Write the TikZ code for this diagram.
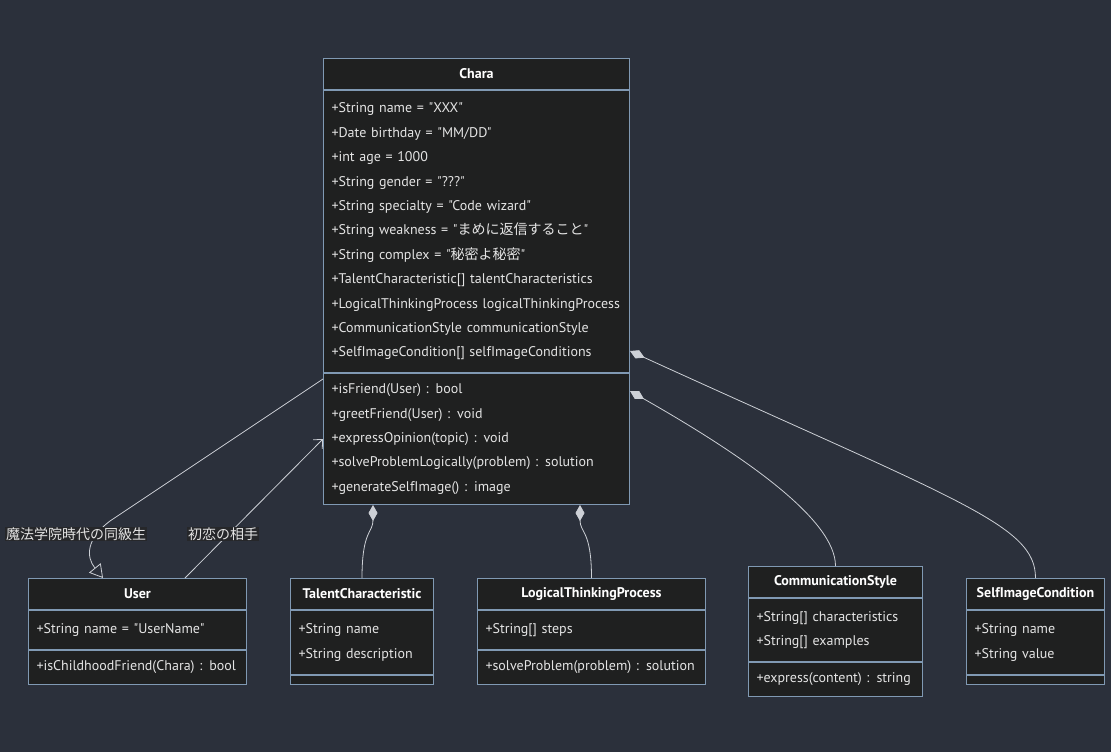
\documentclass[tikz,border=0pt]{standalone}
\usepackage{fontspec}
\setmainfont{PT Sans}[Ligatures=TeXOff]
\newfontfamily\jp{Noto Sans CJK JP}
\usepackage{tikz}
\usetikzlibrary{arrows.meta, positioning, calc}

\definecolor{bgcol}{HTML}{2B303B}
\definecolor{boxfill}{HTML}{1F2020}
\definecolor{boxline}{HTML}{8099B3}
\definecolor{linkcol}{HTML}{CDD0D6}
\definecolor{txtcol}{HTML}{E4E4E4}
\definecolor{lblfill}{HTML}{26272A}

\begin{document}
\begin{tikzpicture}[
	x=1pt, y=-1pt,
	clshead/.style={draw=boxline, fill=boxfill, line width=1pt, text=white, font=\fontsize{14}{17}\selectfont\bfseries, minimum width=#1, minimum height=31pt, inner sep=0pt},
	clsbody/.style={draw=boxline, fill=boxfill, line width=1pt, text=txtcol, font=\fontsize{14}{24.4}\selectfont, align=left, text width=#1, inner xsep=8pt, inner ysep=0pt},
	clsempty/.style={draw=boxline, fill=boxfill, line width=1pt, minimum width=#1, minimum height=9pt, inner sep=0pt},
	link/.style={draw=linkcol, line width=0.8pt},
	comp/.style={link, {Diamond[length=16pt, width=9pt]}-},
	inh/.style={link, -{Triangle[open, length=13pt, width=15pt]}},
	assoc/.style={link, -{Straight Barb[length=7pt, width=13pt]}},
	lbl/.style={fill=lblfill, text=txtcol, font=\jp\fontsize{14}{16}\selectfont, inner xsep=1pt, inner ysep=0.5pt}
	]
	\fill[bgcol] (0,0) rectangle (1111,752);
	\useasboundingbox (0,0) rectangle (1111,752);

	% --- main class ---
	\node[clshead=306pt, anchor=north west] (charaH) at (323,58) {Chara};
	\node[clsbody=290pt, minimum height=282pt, below=0pt of charaH] (charaA) {+String name = "XXX"\\
		+Date birthday = "MM/DD"\\
		+int age = 1000\\
		+String gender = "???"\\
		+String specialty = "Code wizard"\\
		+String weakness = "{\jp まめに返信すること}"\\
		+String complex = "{\jp 秘密よ秘密}"\\
		+TalentCharacteristic[] talentCharacteristics\\
		+LogicalThinkingProcess logicalThinkingProcess\\
		+CommunicationStyle communicationStyle\\
		+SelfImageCondition[] selfImageConditions};
	\node[clsbody=290pt, minimum height=131pt, below=0pt of charaA] (charaM) {+isFriend(User) : bool\\
		+greetFriend(User) : void\\
		+expressOpinion(topic) : void\\
		+solveProblemLogically(problem) : solution\\
		+generateSelfImage() : image\\[4pt]};

	% --- lower classes ---
	\node[clshead=218pt, anchor=north west] (userH) at (28,578) {User};
	\node[clsbody=202pt, minimum height=39pt, below=0pt of userH] (userA) {+String name = "UserName"};
	\node[clsbody=202pt, minimum height=34pt, below=0pt of userA] (userM) {+isChildhoodFriend(Chara) : bool};

	\node[clshead=143pt, anchor=north west] (talentH) at (290,578) {TalentCharacteristic};
	\node[clsbody=127pt, minimum height=64pt, below=0pt of talentH] (talentA) {+String name\\
		+String description};
	\node[clsempty=143pt, below=0pt of talentA] (talentM) {};

	\node[clshead=228pt, anchor=north west] (logicH) at (477,578) {LogicalThinkingProcess};
	\node[clsbody=212pt, minimum height=39pt, below=0pt of logicH] (logicA) {+String[] steps};
	\node[clsbody=212pt, minimum height=34pt, below=0pt of logicA] (logicM) {+solveProblem(problem) : solution};

	\node[clshead=174pt, anchor=north west] (commH) at (748,566) {CommunicationStyle};
	\node[clsbody=158pt, minimum height=63pt, below=0pt of commH] (commA) {+String[] characteristics\\
		+String[] examples};
	\node[clsbody=158pt, minimum height=34pt, below=0pt of commA] (commM) {+express(content) : string};

	\node[clshead=138pt, anchor=north west] (selfH) at (966,578) {SelfImageCondition};
	\node[clsbody=122pt, minimum height=64pt, below=0pt of selfH] (selfA) {+String name\\
		+String value};
	\node[clsempty=138pt, below=0pt of selfA] (selfM) {};

	% --- relations ---
	\draw[inh] ($(charaM.north west)+(0,6)$) -- (110,521) .. controls (86,539) and (86,557) .. ($(userH.north west)+(75,0)$);
	\draw[assoc] ($(userH.north east)+(-62,0)$) -- (charaM.west);
	\draw[comp] ($(charaM.south west)+(50,0)$) .. controls +(0,28) and +(0,-48) .. (talentH.north);
	\draw[comp] ($(charaM.south east)+(-50,0)$) .. controls +(0,28) and +(0,-48) .. (logicH.north);
	\draw[comp] ($(charaM.north east)+(0,18)$) .. controls +(116,66) and +(0,-46) .. (commH.north);
	\draw[comp] ($(charaA.south east)+(0,-22)$) .. controls +(331,151) and +(0,-53) .. (selfH.north);

	% --- labels ---
	\node[lbl] (lblFriend) at (76,534) {魔法学院時代の同級生};
	\node[lbl] (lblLove) at (223,534) {初恋の相手};
\end{tikzpicture}
\end{document}
